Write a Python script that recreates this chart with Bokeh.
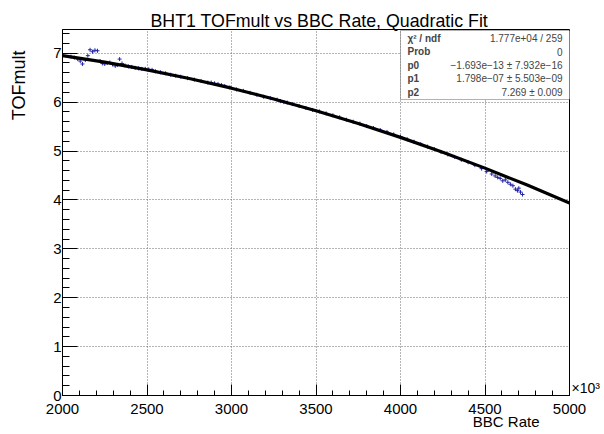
from bokeh.plotting import figure
from bokeh.models import Range1d, FixedTicker, Label, BoxAnnotation, Title, LinearAxis
from bokeh.embed import file_html
from bokeh.resources import INLINE

# ---------------- data ----------------
title_text = "BHT1 TOFmult vs BBC Rate, Quadratic Fit"
x_title = "BBC Rate"
y_title = "TOFmult"
x_exponent = "×10³"

# measured points (BBC rate in units of 10^3, TOFmult)
data_x = [2050, 2070, 2090, 2105, 2118, 2135, 2150, 2163, 2178, 2192, 2207,
          2222, 2236, 2250, 2265, 2280, 2296, 2312, 2326, 2338, 2352, 2370,
          2390, 2410, 2430, 2450, 2470, 2490, 2510, 2530, 2550, 2580, 2610,
          2640, 2670, 2700, 2740, 2780, 2820, 2860, 2880, 2900, 2920, 2940,
          2960, 2990, 3030, 3070, 3110, 3150, 3190, 3230, 3270, 3290, 3310,
          3330, 3360, 3400, 3440, 3480, 3520, 3560, 3600, 3640, 3680, 3720,
          3760, 3800, 3840, 3880, 3920, 3960, 4000, 4040, 4080, 4120, 4160,
          4200, 4240, 4280, 4320, 4360, 4400, 4440, 4480, 4510, 4540, 4560,
          4575, 4590, 4605, 4620, 4635, 4650, 4665, 4680, 4692, 4700, 4710,
          4722]
data_y = [6.93, 6.91, 6.88, 6.84, 6.78, 6.86, 6.95, 7.07, 7.03, 7.06, 7.05,
          6.84, 6.79, 6.78, 6.80, 6.81, 6.77, 6.74, 6.76, 6.88, 6.79, 6.75,
          6.73, 6.72, 6.70, 6.69, 6.68, 6.68, 6.67, 6.66, 6.63, 6.61, 6.59,
          6.56, 6.54, 6.52, 6.49, 6.46, 6.43, 6.40, 6.40, 6.385, 6.37, 6.35,
          6.33, 6.30, 6.26, 6.23, 6.19, 6.15, 6.11, 6.08, 6.05, 6.02, 6.00,
          5.99, 5.96, 5.92, 5.88, 5.84, 5.81, 5.77, 5.73, 5.69, 5.64, 5.60,
          5.56, 5.51, 5.47, 5.43, 5.39, 5.34, 5.29, 5.24, 5.19, 5.14, 5.09,
          5.04, 4.98, 4.93, 4.88, 4.82, 4.77, 4.71, 4.64, 4.58, 4.53, 4.49,
          4.46, 4.44, 4.39, 4.41, 4.36, 4.32, 4.29, 4.22, 4.19, 4.24, 4.16,
          4.11]

# fit curve
fit_x = [2000, 2250, 2500, 2750, 3000, 3250, 3500, 3750, 4000, 4250, 4500, 4750, 5000]
fit_y = [6.951, 6.817, 6.660, 6.483, 6.285, 6.065, 5.824, 5.563, 5.279, 4.975, 4.650, 4.303, 3.936]

stat_names = ["χ² / ndf", "Prob", "p0", "p1", "p2"]
stat_values = ["1.777e+04 / 259", "0", "−1.693e−13 ± 7.932e−16",
               "1.798e−07 ± 5.503e−09", "7.269 ± 0.009"]

x_major = [2000, 2500, 3000, 3500, 4000, 4500, 5000]
y_major = [0, 1, 2, 3, 4, 5, 6, 7]

# ---------------- layout ----------------
W, H = 604, 434
L, R, T, B = 62, 35, 29, 39
X0, X1 = 2000, 5000
FW, FH = W - L - R, H - T - B
Y0, Y1 = 0, 7.485
FONT = "Liberation Sans"
BLUE = "#2323a8"


def px2x(px):
    return X0 + (px - L) * (X1 - X0) / FW


def py2y(py):
    return Y0 + (T + FH - py) * (Y1 - Y0) / FH


p = figure(width=W, height=H, x_range=Range1d(X0, X1), y_range=Range1d(Y0, Y1),
           output_backend="svg", toolbar_location=None,
           min_border_left=L, min_border_right=R, min_border_top=T, min_border_bottom=B)
p.background_fill_color = "white"
p.border_fill_color = "white"
p.outline_line_color = "black"
p.outline_line_width = 1

p.xaxis.ticker = FixedTicker(ticks=x_major, minor_ticks=list(range(2000, 5001, 100)))
p.yaxis.ticker = FixedTicker(ticks=y_major, minor_ticks=[round(i * 0.2, 1) for i in range(0, 38)])

for ax, mj, mn in ((p.xaxis[0], 11, 5), (p.yaxis[0], 15, 7)):
    ax.major_tick_in = mj
    ax.major_tick_out = 0
    ax.minor_tick_in = mn
    ax.minor_tick_out = 0
    ax.axis_line_color = "black"
    ax.major_tick_line_color = "black"
    ax.minor_tick_line_color = "black"
    ax.major_label_text_font = FONT
    ax.major_label_text_font_size = "15px"
    ax.major_label_text_color = "black"
p.xaxis.major_label_standoff = 8
p.yaxis.major_label_standoff = 1

p.grid.grid_line_color = "#6a6a6a"
p.grid.grid_line_dash = "1 2"
p.grid.grid_line_width = 1

# data points and fit
p.scatter(data_x, data_y, marker="cross", size=4, line_color=BLUE, line_width=1)
p.line(fit_x, fit_y, line_color="black", line_width=3.2)

# stats box
p.add_layout(BoxAnnotation(left=px2x(400), right=px2x(570), top=py2y(30), bottom=py2y(99),
                           fill_color="white", fill_alpha=1.0, line_color="black",
                           line_width=1, level="overlay"))
for i, (nm, val) in enumerate(zip(stat_names, stat_values)):
    yy = py2y(37.5 + 13.5 * i)
    p.add_layout(Label(x=px2x(407), y=yy, text=nm, text_font=FONT, text_font_size="10px",
                       text_font_style="bold", text_baseline="middle", text_align="left",
                       level="overlay"))
    p.add_layout(Label(x=px2x(562), y=yy, text=val, text_font=FONT, text_font_size="10px",
                       text_baseline="middle", text_align="right", level="overlay"))

# titles (outside the frame)
p.title = Title(text=title_text, align="left", offset=88, text_font=FONT,
                text_font_size="17.8px", text_font_style="normal", text_color="black",
                standoff=-2)
p.add_layout(Title(text=x_title, align="right", offset=30, text_font=FONT,
                   text_font_size="15px", text_font_style="normal", text_color="black",
                   vertical_align="top", standoff=-7), "below")
# second (blank) line pushes the y title outward, away from the tick labels
p.add_layout(Title(text=y_title + "\n ", align="right", offset=21, text_font=FONT,
                   text_font_size="18px", text_font_style="normal", text_color="black",
                   standoff=4), "left")

# exponent marker at the right end of the x axis
rax = LinearAxis(ticker=FixedTicker(ticks=[0.16]), major_label_overrides={0.16: x_exponent},
                 axis_line_color=None, major_tick_line_color=None, minor_tick_line_color=None,
                 major_tick_in=0, major_tick_out=0, minor_tick_in=0, minor_tick_out=0,
                 major_label_standoff=2, major_label_text_font=FONT,
                 major_label_text_font_size="14px", major_label_text_color="black")
p.add_layout(rax, "right")

open("out.html", "w").write(file_html(p, INLINE))
